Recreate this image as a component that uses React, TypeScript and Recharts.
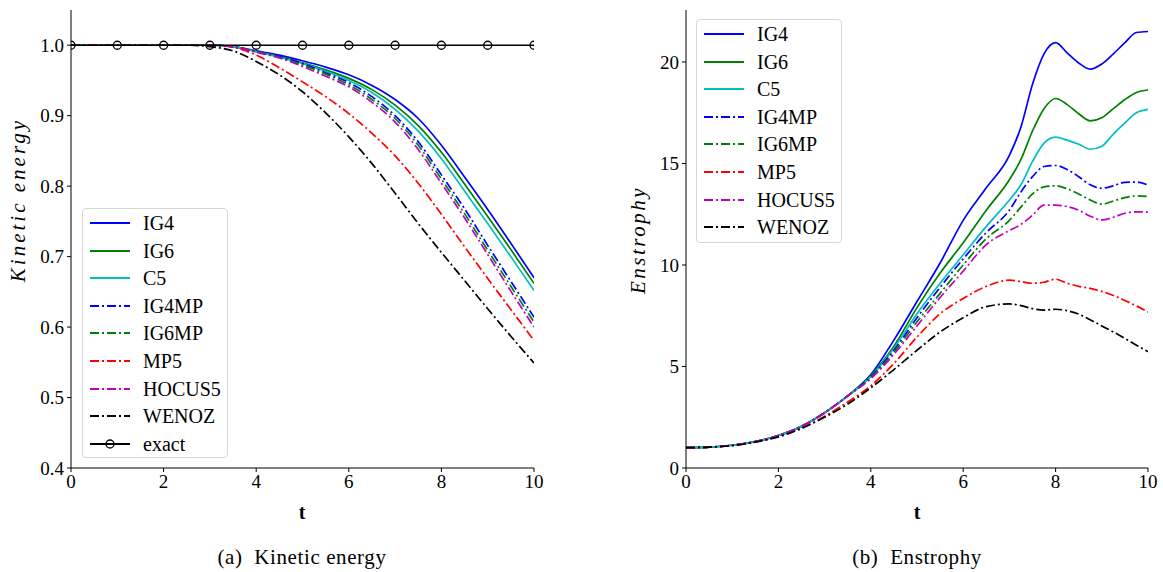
import { LineChart, Line, XAxis, YAxis } from "recharts";

// time grids
const tKE = [0, 0.5, 1, 1.5, 2, 2.5, 3, 3.5, 4, 4.5, 5, 5.5, 6, 6.5, 7, 7.5, 8, 8.5, 9, 9.5, 10];
const tEns = [0, 0.5, 1, 1.5, 2, 2.5, 3, 3.5, 4, 4.5, 5, 5.5, 6, 6.5, 7, 7.25, 7.5, 7.75, 8, 8.25, 8.5, 8.75, 9, 9.25, 9.5, 9.75, 10];
const tExact = [0, 1, 2, 3, 4, 5, 6, 7, 8, 9, 10];

// kinetic energy
const keIG4 = [1, 1, 1, 1, 1, 1, 1, 0.998, 0.992, 0.986, 0.978, 0.969, 0.958, 0.943, 0.923, 0.896, 0.858, 0.813, 0.767, 0.719, 0.67];
const keIG6 = [1, 1, 1, 1, 1, 1, 1, 0.998, 0.991, 0.984, 0.975, 0.965, 0.953, 0.937, 0.915, 0.886, 0.848, 0.803, 0.757, 0.71, 0.662];
const keC5 = [1, 1, 1, 1, 1, 1, 1, 0.998, 0.991, 0.983, 0.974, 0.963, 0.95, 0.933, 0.909, 0.878, 0.839, 0.793, 0.747, 0.7, 0.652];
const keIG4MP = [1, 1, 1, 1, 1, 1, 1, 0.998, 0.991, 0.984, 0.974, 0.961, 0.947, 0.927, 0.9, 0.863, 0.816, 0.768, 0.716, 0.665, 0.614];
const keIG6MP = [1, 1, 1, 1, 1, 1, 1, 0.998, 0.991, 0.983, 0.972, 0.959, 0.944, 0.923, 0.896, 0.858, 0.81, 0.761, 0.709, 0.658, 0.607];
const keMP5 = [1, 1, 1, 1, 1, 1, 1, 0.997, 0.986, 0.968, 0.948, 0.927, 0.903, 0.875, 0.843, 0.804, 0.76, 0.714, 0.669, 0.625, 0.581];
const keHOCUS5 = [1, 1, 1, 1, 1, 1, 1, 0.998, 0.99, 0.982, 0.97, 0.956, 0.941, 0.919, 0.891, 0.852, 0.804, 0.755, 0.703, 0.651, 0.6];
const keWENOZ = [1, 1, 1, 1, 1, 1, 0.998, 0.992, 0.977, 0.958, 0.934, 0.904, 0.87, 0.832, 0.79, 0.747, 0.706, 0.666, 0.626, 0.587, 0.549];
const keExact = [1, 1, 1, 1, 1, 1, 1, 1, 1, 1, 1];

// enstrophy
const enIG4 = [1, 1.03, 1.12, 1.3, 1.6, 2.05, 2.72, 3.55, 4.6, 6.3, 8.2, 10.1, 12.2, 13.8, 15.4, 16.8, 18.9, 20.4, 20.95, 20.45, 19.95, 19.65, 19.9, 20.4, 20.95, 21.45, 21.5];
const enIG6 = [1, 1.03, 1.12, 1.3, 1.6, 2.05, 2.72, 3.55, 4.55, 6.0, 7.9, 9.6, 11.1, 12.7, 14.2, 15.2, 16.6, 17.7, 18.2, 17.9, 17.45, 17.1, 17.25, 17.7, 18.15, 18.5, 18.62];
const enC5 = [1, 1.03, 1.12, 1.3, 1.6, 2.05, 2.72, 3.55, 4.5, 5.9, 7.6, 9.1, 10.5, 11.9, 13.2, 13.95, 15.1, 16.0, 16.3, 16.15, 15.95, 15.7, 15.85, 16.45, 17.0, 17.5, 17.67];
const enIG4MP = [1, 1.03, 1.12, 1.3, 1.6, 2.05, 2.72, 3.55, 4.5, 5.8, 7.4, 8.9, 10.3, 11.6, 12.7, 13.6, 14.35, 14.85, 14.9, 14.7, 14.35, 13.95, 13.78, 13.9, 14.07, 14.08, 13.94];
const enIG6MP = [1, 1.03, 1.12, 1.3, 1.6, 2.05, 2.72, 3.55, 4.45, 5.7, 7.2, 8.6, 10.0, 11.3, 12.2, 12.85, 13.5, 13.85, 13.9, 13.75, 13.5, 13.2, 13.0, 13.15, 13.32, 13.4, 13.37];
const enMP5 = [1, 1.03, 1.1, 1.28, 1.55, 1.95, 2.55, 3.25, 4.05, 5.15, 6.45, 7.6, 8.35, 8.95, 9.25, 9.18, 9.1, 9.15, 9.3, 9.1, 8.95, 8.85, 8.7, 8.5, 8.25, 7.98, 7.68];
const enHOCUS5 = [1, 1.03, 1.12, 1.3, 1.6, 2.05, 2.72, 3.55, 4.4, 5.6, 7.0, 8.4, 9.7, 11.0, 11.7, 12.0, 12.45, 12.95, 12.95, 12.88, 12.7, 12.4, 12.22, 12.35, 12.55, 12.62, 12.6];
const enWENOZ = [1, 1.03, 1.1, 1.28, 1.53, 1.95, 2.5, 3.15, 3.95, 4.85, 5.8, 6.7, 7.4, 7.95, 8.08, 8.0, 7.85, 7.78, 7.82, 7.75, 7.58, 7.3, 7.0, 6.7, 6.38, 6.05, 5.73];

const xTicks = [0, 2, 4, 6, 8, 10];
const keTicksY = [0.4, 0.5, 0.6, 0.7, 0.8, 0.9, 1.0];
const enTicksY = [0, 5, 10, 15, 20];

const names = ["IG4", "IG6", "C5", "IG4MP", "IG6MP", "MP5", "HOCUS5", "WENOZ"];
const colors = ["#0000ff", "#008000", "#00bfbf", "#0000ff", "#008000", "#ff0000", "#bf00bf", "#000000"];
const dashed = [false, false, false, true, true, true, true, true];
const keSeries = [keIG4, keIG6, keC5, keIG4MP, keIG6MP, keMP5, keHOCUS5, keWENOZ];
const enSeries = [enIG4, enIG6, enC5, enIG4MP, enIG6MP, enMP5, enHOCUS5, enWENOZ];

const DASH = "9 3 2 3";
const FONT = "Times New Roman, Liberation Serif, DejaVu Serif, serif";

const keRows = tKE.map((t, i) => {
  const row: Record<string, number | null> = { t };
  names.forEach((n, k) => (row[n] = keSeries[k][i]));
  const j = tExact.indexOf(t);
  row.exact = j >= 0 ? keExact[j] : null;
  return row;
});

const enRows = tEns.map((t, i) => {
  const row: Record<string, number> = { t };
  names.forEach((n, k) => (row[n] = enSeries[k][i]));
  return row;
});

const tickStyle = { fill: "#000", fontSize: 19, fontFamily: FONT };

function Legend({ left, top, width, height, items }: any) {
  return (
    <div
      style={{
        position: "absolute",
        left,
        top,
        width,
        height,
        border: "1px solid #d6d6d6",
        borderRadius: 4,
        background: "rgba(255,255,255,0.85)",
        boxSizing: "border-box",
      }}
    >
      {items.map((it: any, i: number) => (
        <div key={it.name} style={{ position: "absolute", left: 0, top: i * 27.6, height: 28, width: "100%" }}>
          <svg width={50} height={28} style={{ position: "absolute", left: 0, top: 0 }}>
            <line x1={7} x2={47} y1={14} y2={14} stroke={it.color} strokeWidth={1.8} strokeDasharray={it.dash ? DASH : undefined} />
            {it.marker && <circle cx={27} cy={14} r={4} fill="none" stroke="#000" strokeWidth={1.3} />}
          </svg>
          <span style={{ position: "absolute", left: 60, top: 0, lineHeight: "28px", fontSize: 20, fontFamily: FONT, color: "#000" }}>
            {it.name}
          </span>
        </div>
      ))}
    </div>
  );
}

const legendItems = names.map((n, k) => ({ name: n, color: colors[k], dash: dashed[k] }));

const abs = (left: number, top: number, extra: any = {}) => ({
  position: "absolute" as const,
  left,
  top,
  transform: "translate(-50%, -50%)",
  fontFamily: FONT,
  color: "#000",
  whiteSpace: "nowrap" as const,
  ...extra,
});

export default function App() {
  return (
    <div style={{ position: "absolute", left: 0, top: 0, width: 1163, height: 572, background: "#fff" }}>
      {/* kinetic energy */}
      <div style={{ position: "absolute", left: 0, top: 0 }}>
        <LineChart width={545} height={520} data={keRows} margin={{ top: 10, right: 11, left: 0, bottom: 0 }}>
          <XAxis
            dataKey="t"
            type="number"
            domain={[0, 10]}
            ticks={xTicks}
            height={52}
            tick={tickStyle}
            tickSize={4}
            tickMargin={3}
            stroke="#000"
            allowDataOverflow
          />
          <XAxis xAxisId="top" dataKey="t" type="number" domain={[0, 10]} orientation="top" height={0} tick={false} tickLine={false} stroke="#444" />
          <YAxis
            type="number"
            domain={[0.4, 1.05]}
            ticks={keTicksY}
            width={71}
            tick={tickStyle}
            tickSize={4}
            tickMargin={3}
            tickFormatter={(v: number) => v.toFixed(1)}
            stroke="#000"
            allowDataOverflow
          />
          <YAxis yAxisId="right" orientation="right" width={0} tick={false} tickLine={false} stroke="#000" domain={[0.4, 1.05]} />
          {names.map((n, k) => (
            <Line
              key={n}
              dataKey={n}
              type="monotone"
              stroke={colors[k]}
              strokeWidth={1.7}
              strokeDasharray={dashed[k] ? DASH : undefined}
              dot={false}
              isAnimationActive={false}
            />
          ))}
          <Line
            dataKey="exact"
            type="linear"
            stroke="#000"
            strokeWidth={1.7}
            connectNulls
            dot={{ r: 4, fill: "none", stroke: "#000", strokeWidth: 1.3 }}
            isAnimationActive={false}
          />
        </LineChart>
      </div>

      {/* enstrophy */}
      <div style={{ position: "absolute", left: 600, top: 0 }}>
        <LineChart width={560} height={520} data={enRows} margin={{ top: 10, right: 12, left: 0, bottom: 0 }}>
          <XAxis
            dataKey="t"
            type="number"
            domain={[0, 10]}
            ticks={xTicks}
            height={52}
            tick={tickStyle}
            tickSize={4}
            tickMargin={3}
            stroke="#000"
            allowDataOverflow
          />
          <XAxis xAxisId="top" dataKey="t" type="number" domain={[0, 10]} orientation="top" height={0} tick={false} tickLine={false} stroke="#444" />
          <YAxis
            type="number"
            domain={[0, 22.56]}
            ticks={enTicksY}
            width={86}
            tick={tickStyle}
            tickSize={4}
            tickMargin={3}
            stroke="#000"
            allowDataOverflow
          />
          <YAxis yAxisId="right" orientation="right" width={0} tick={false} tickLine={false} stroke="#000" domain={[0, 22.56]} />
          {names.map((n, k) => (
            <Line
              key={n}
              dataKey={n}
              type="monotone"
              stroke={colors[k]}
              strokeWidth={1.7}
              strokeDasharray={dashed[k] ? DASH : undefined}
              dot={false}
              isAnimationActive={false}
            />
          ))}
        </LineChart>
      </div>

      <Legend left={82} top={208} width={146} height={250} items={[...legendItems, { name: "exact", color: "#000", dash: false, marker: true }]} />
      <Legend left={696} top={19} width={146} height={224} items={legendItems} />

      {/* axis titles */}
      <div style={abs(302, 512, { fontSize: 20, fontWeight: "bold" })}>t</div>
      <div style={abs(917, 512, { fontSize: 20, fontWeight: "bold" })}>t</div>
      <div style={abs(18, 200, { fontSize: 21, fontStyle: "italic", letterSpacing: 3, transform: "translate(-50%, -50%) rotate(-90deg)" })}>
        Kinetic energy
      </div>
      <div style={abs(638, 240, { fontSize: 21, fontStyle: "italic", letterSpacing: 2.5, transform: "translate(-50%, -50%) rotate(-90deg)" })}>
        Enstrophy
      </div>

      {/* captions */}
      <div style={abs(302, 557, { fontSize: 21, letterSpacing: 0.6 })}>(a)&nbsp; Kinetic energy</div>
      <div style={abs(917, 557, { fontSize: 21, letterSpacing: 0.6 })}>(b)&nbsp; Enstrophy</div>
    </div>
  );
}
